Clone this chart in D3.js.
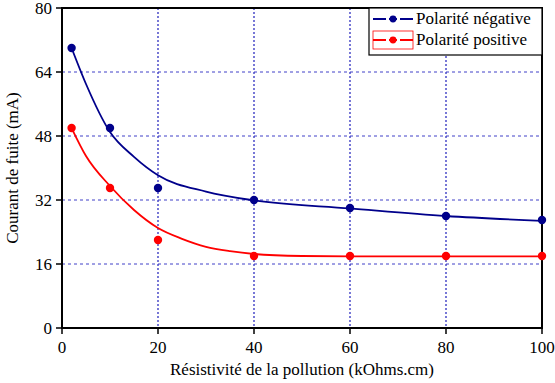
<!DOCTYPE html>
<html>
<head>
<meta charset="utf-8">
<script src="https://cdn.jsdelivr.net/npm/d3@7/dist/d3.min.js"></script>
</head>
<body style="margin:0">
<script>
// data
var xTicks = [0, 20, 40, 60, 80, 100];
var yTicks = [0, 16, 32, 48, 64, 80];

var negX = [2, 10, 20, 40, 60, 80, 100];
var negY = [70, 50, 35, 32, 30, 28, 27];
var posX = [2, 10, 20, 40, 60, 80, 100];
var posY = [50, 35, 22, 18, 18, 18, 18];

// fitted curves
var negFitX = [2, 5, 10, 15, 20, 30, 40, 60, 80, 100];
var negFitY = [70, 61, 49, 42.8, 38.2, 34.1, 31.9, 29.9, 28.0, 26.8];
var posFitX = [2, 5, 10, 15, 20, 25, 30, 35, 40, 50, 60, 80, 100];
var posFitY = [50, 43, 35.5, 29.5, 25, 22.3, 20.3, 19.2, 18.5, 18, 17.9, 17.9, 17.9];

var legendLabels = ["Polarité négative", "Polarité positive"];
var colNeg = "#00008b";
var colPos = "#ff0000";
var fontName = "'Times New Roman'";

var svgWidth = 555;
var svgHeight = 383;
var margin = { top: 8, right: 13, bottom: 55, left: 62 };
var width = svgWidth - margin.left - margin.right;
var height = svgHeight - margin.top - margin.bottom;

var svg = d3.select("body").append("svg")
  .attr("width", svgWidth)
  .attr("height", svgHeight);

var chart = svg.append("g")
  .attr("transform", "translate(" + margin.left + "," + margin.top + ")");

var x = d3.scaleLinear().domain([0, 100]).range([0, width]);
var y = d3.scaleLinear().domain([0, 80]).range([height, 0]);

// grid
chart.append("g").selectAll("line")
  .data(yTicks.filter(function(d) { return d > 0 && d < 80; }))
  .enter().append("line")
  .attr("x1", 0).attr("x2", width)
  .attr("y1", function(d) { return y(d); })
  .attr("y2", function(d) { return y(d); })
  .attr("stroke", "#4040c8").attr("stroke-width", 1)
  .attr("stroke-dasharray", "3,3");

chart.append("g").selectAll("line")
  .data(xTicks.filter(function(d) { return d > 0 && d < 100; }))
  .enter().append("line")
  .attr("y1", 0).attr("y2", height)
  .attr("x1", function(d) { return x(d); })
  .attr("x2", function(d) { return x(d); })
  .attr("stroke", "#3030c0").attr("stroke-width", 1.3)
  .attr("stroke-dasharray", "2,2");

// axes, drawn by hand so the labels are plain text nodes
chart.append("g").selectAll("line")
  .data(xTicks).enter().append("line")
  .attr("x1", function(d) { return x(d); }).attr("x2", function(d) { return x(d); })
  .attr("y1", height).attr("y2", height + 6)
  .attr("stroke", "#000").attr("stroke-width", 1.5);
chart.append("g").selectAll("line")
  .data(yTicks).enter().append("line")
  .attr("y1", function(d) { return y(d); }).attr("y2", function(d) { return y(d); })
  .attr("x1", -6).attr("x2", 0)
  .attr("stroke", "#000").attr("stroke-width", 1.5);

chart.append("g").selectAll("text")
  .data(xTicks).enter().append("text")
  .attr("x", function(d) { return x(d); })
  .attr("y", height + 25)
  .style("font-family", fontName)
  .style("font-size", "17px")
  .style("text-anchor", "middle")
  .text(function(d) { return d; });
chart.append("g").selectAll("text")
  .data(yTicks).enter().append("text")
  .attr("x", -10)
  .attr("y", function(d) { return y(d) + 6; })
  .style("font-family", fontName)
  .style("font-size", "17px")
  .style("text-anchor", "end")
  .text(function(d) { return d; });

// frame
chart.append("rect")
  .attr("x", 0).attr("y", 0)
  .attr("width", width).attr("height", height)
  .attr("fill", "none")
  .attr("stroke", "#000").attr("stroke-width", 2);

// curves
var line = d3.line()
  .x(function(d) { return x(d[0]); })
  .y(function(d) { return y(d[1]); })
  .curve(d3.curveMonotoneX);

chart.append("path")
  .datum(negFitX.map(function(v, i) { return [v, negFitY[i]]; }))
  .attr("d", line)
  .attr("fill", "none").attr("stroke", colNeg).attr("stroke-width", 1.8);

chart.append("path")
  .datum(posFitX.map(function(v, i) { return [v, posFitY[i]]; }))
  .attr("d", line)
  .attr("fill", "none").attr("stroke", colPos).attr("stroke-width", 1.8);

// points
chart.append("g").selectAll("circle")
  .data(negX.map(function(v, i) { return [v, negY[i]]; }))
  .enter().append("circle")
  .attr("cx", function(d) { return x(d[0]); })
  .attr("cy", function(d) { return y(d[1]); })
  .attr("r", 4.2)
  .attr("fill", colNeg);

chart.append("g").selectAll("circle")
  .data(posX.map(function(v, i) { return [v, posY[i]]; }))
  .enter().append("circle")
  .attr("cx", function(d) { return x(d[0]); })
  .attr("cy", function(d) { return y(d[1]); })
  .attr("r", 4.2)
  .attr("fill", colPos);

// legend
var lg = chart.append("g").attr("transform", "translate(" + (369 - margin.left) + ",0)");
lg.append("rect")
  .attr("x", 0).attr("y", 0)
  .attr("width", width - (369 - margin.left)).attr("height", 47)
  .attr("fill", "#fff").attr("stroke", "#000").attr("stroke-width", 1.2);

[colNeg, colPos].forEach(function(c, i) {
  var yy = 11 + i * 21;
  if (i === 1) {
    lg.append("rect")
      .attr("x", 4).attr("y", yy - 9)
      .attr("width", 40).attr("height", 18)
      .attr("fill", "none").attr("stroke", c).attr("stroke-width", 0.8);
  }
  lg.append("line")
    .attr("x1", 4).attr("x2", 44)
    .attr("y1", yy).attr("y2", yy)
    .attr("stroke", c).attr("stroke-width", 1.8)
    .attr("stroke-dasharray", "13,3,8,3,13");
  lg.append("circle")
    .attr("cx", 24).attr("cy", yy).attr("r", 3.4)
    .attr("fill", c);
  lg.append("text")
    .attr("x", 47).attr("y", yy + 5)
    .style("font-family", fontName)
    .style("font-size", "17px")
    .text(legendLabels[i]);
});

// axis titles
svg.append("text")
  .attr("x", margin.left + width / 2)
  .attr("y", svgHeight - 8)
  .style("text-anchor", "middle")
  .style("font-family", fontName)
  .style("font-size", "17px")
  .text("Résistivité de la pollution (kOhms.cm)");

svg.append("text")
  .attr("transform", "translate(18," + (margin.top + height / 2) + ") rotate(-90)")
  .style("text-anchor", "middle")
  .style("font-family", fontName)
  .style("font-size", "17px")
  .text("Courant de fuite (mA)");
</script>
</body>
</html>
